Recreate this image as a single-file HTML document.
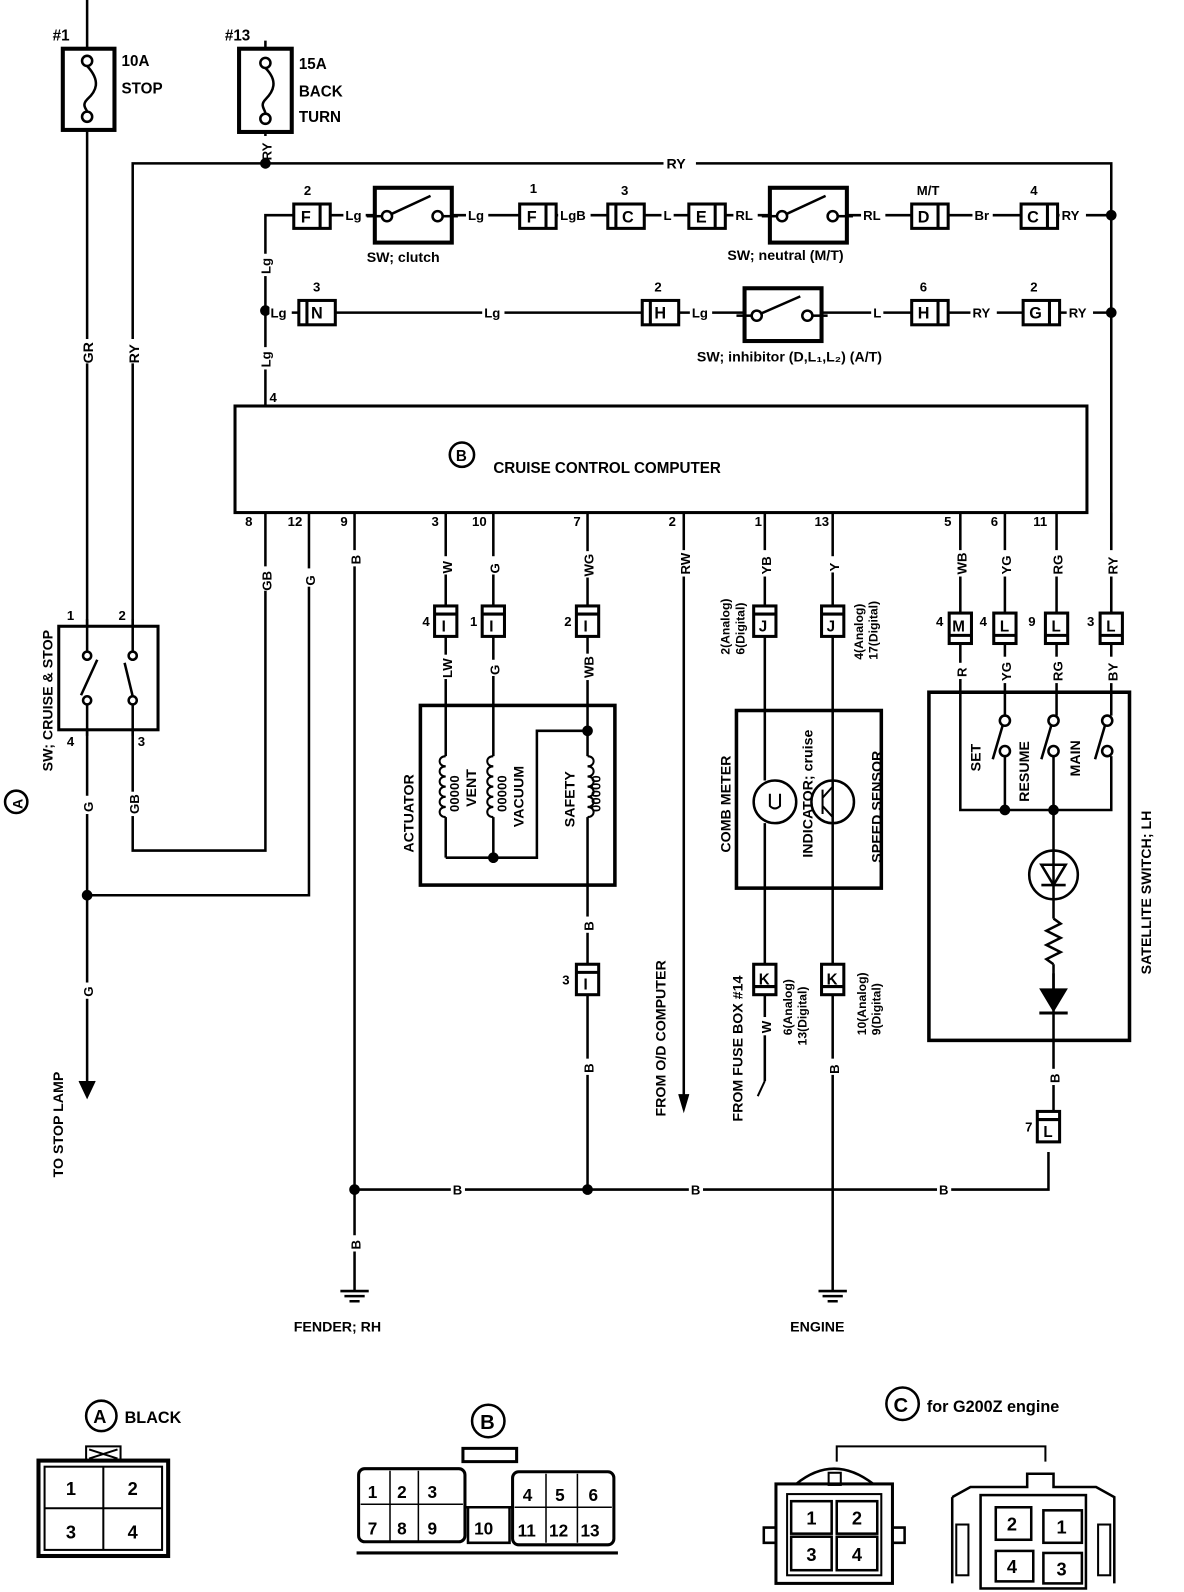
<!DOCTYPE html>
<html><head><meta charset="utf-8"><style>
html,body{margin:0;padding:0;background:#fff}
svg{display:block}
text{font-family:"Liberation Sans",sans-serif;font-weight:bold;fill:#000}
</style></head><body>
<svg width="1184" height="1592" viewBox="0 0 1184 1592" xmlns="http://www.w3.org/2000/svg">
<g transform="scale(1.013 1.015)" stroke="#000" stroke-width="2.5" fill="none">
<!-- Fuses -->
<line x1="86" y1="0" x2="86" y2="620"/>
<rect x="62" y="48" width="51" height="80" stroke-width="4" fill="#fff"/>
<circle cx="86" cy="60" r="5"/><circle cx="86" cy="115" r="5"/>
<path d="M86 65 C100 80 95 90 86 98 C80 104 86 108 86 110"/>
<text x="52" y="40" font-size="15" stroke="none">#1</text>
<text x="120" y="65" font-size="15" stroke="none">10A</text>
<text x="120" y="92" font-size="15" stroke="none">STOP</text>
<line x1="262" y1="40" x2="262" y2="160"/>
<rect x="236" y="48" width="52" height="82" stroke-width="4" fill="#fff"/>
<circle cx="262" cy="62" r="5"/><circle cx="262" cy="117" r="5"/>
<path d="M262 67 C275 80 270 90 262 98 C256 104 262 108 262 112"/>
<text x="222" y="40" font-size="15" stroke="none">#13</text>
<text x="295" y="68" font-size="15" stroke="none">15A</text>
<text x="295" y="95" font-size="15" stroke="none">BACK</text>
<text x="295" y="120" font-size="15" stroke="none">TURN</text>
<rect x="255" y="134" width="14" height="22" fill="#fff" stroke="none"/>
<text transform="translate(268,158) rotate(-90)" font-size="13" stroke="none">RY</text>
<!-- RY bus -->
<path d="M131 620 V161 H1097 V620"/>
<circle cx="262" cy="161" r="4" fill="#000"/>
<rect x="655" y="152" width="32" height="16" fill="#fff" stroke="none"/>
<text x="658" y="166" font-size="14" stroke="none">RY</text>
<rect x="124" y="334" width="14" height="24" fill="#fff" stroke="none"/>
<text transform="translate(137,358) rotate(-90)" font-size="14" stroke="none">RY</text>
<rect x="79" y="334" width="14" height="24" fill="#fff" stroke="none"/>
<text transform="translate(92,358) rotate(-90)" font-size="14" stroke="none">GR</text>
<!-- Row 1 -->
<path d="M262 400 V212 H1097"/>
<circle cx="1097" cy="212" r="4" fill="#000"/>
<circle cx="1097" cy="308" r="4" fill="#000"/>
<circle cx="262" cy="306" r="4" fill="#000"/>
<g stroke="none" font-size="13">
<rect x="255" y="250" width="14" height="22" fill="#fff"/><text transform="translate(267,270) rotate(-90)">Lg</text>
<rect x="255" y="342" width="14" height="22" fill="#fff"/><text transform="translate(267,362) rotate(-90)">Lg</text>
</g>
<g stroke="none" font-size="13">
<rect x="339" y="203" width="22" height="18" fill="#fff"/><text x="341" y="217">Lg</text>
<rect x="460" y="203" width="22" height="18" fill="#fff"/><text x="462" y="217">Lg</text>
<rect x="551" y="203" width="32" height="18" fill="#fff"/><text x="553" y="217">LgB</text>
<rect x="653" y="203" width="12" height="18" fill="#fff"/><text x="655" y="217">L</text>
<rect x="724" y="203" width="24" height="18" fill="#fff"/><text x="726" y="217">RL</text>
<rect x="850" y="203" width="24" height="18" fill="#fff"/><text x="852" y="217">RL</text>
<rect x="960" y="203" width="20" height="18" fill="#fff"/><text x="962" y="217">Br</text>
<rect x="1046" y="203" width="26" height="18" fill="#fff"/><text x="1048" y="217">RY</text>
</g>
<rect x="370" y="185" width="76" height="54" stroke-width="4" fill="#fff"/>
<circle cx="382" cy="213" r="5"/><circle cx="432" cy="213" r="5"/><line x1="386" y1="211" x2="425" y2="193"/>
<line x1="362" y1="213" x2="377" y2="213"/><line x1="437" y1="213" x2="452" y2="213"/>
<text x="362" y="258" font-size="14" stroke="none">SW; clutch</text>
<rect x="760" y="185" width="76" height="54" stroke-width="4" fill="#fff"/>
<circle cx="772" cy="213" r="5"/><circle cx="822" cy="213" r="5"/><line x1="776" y1="211" x2="815" y2="193"/>
<line x1="752" y1="213" x2="767" y2="213"/><line x1="827" y1="213" x2="842" y2="213"/>
<text x="718" y="256" font-size="14" stroke="none">SW; neutral (M/T)</text>
<!-- Row 2 -->
<path d="M262 308 H1097"/>
<g stroke="none" font-size="13">
<rect x="266" y="299" width="22" height="18" fill="#fff"/><text x="267" y="313">Lg</text>
<rect x="476" y="299" width="22" height="18" fill="#fff"/><text x="478" y="313">Lg</text>
<rect x="681" y="299" width="22" height="18" fill="#fff"/><text x="683" y="313">Lg</text>
<rect x="860" y="299" width="12" height="18" fill="#fff"/><text x="862" y="313">L</text>
<rect x="958" y="299" width="26" height="18" fill="#fff"/><text x="960" y="313">RY</text>
<rect x="1053" y="299" width="26" height="18" fill="#fff"/><text x="1055" y="313">RY</text>
</g>
<rect x="735" y="284" width="76" height="52" stroke-width="4" fill="#fff"/>
<circle cx="747" cy="311" r="5"/><circle cx="797" cy="311" r="5"/><line x1="751" y1="309" x2="790" y2="292"/>
<line x1="727" y1="311" x2="742" y2="311"/><line x1="802" y1="311" x2="817" y2="311"/>
<text x="688" y="356" font-size="14" stroke="none">SW; inhibitor (D,L₁,L₂) (A/T)</text>
<g stroke-width="3">
<rect x="290" y="201" width="36" height="24" fill="#fff"/><line x1="316" y1="201" x2="316" y2="225"/>
<rect x="513" y="201" width="36" height="24" fill="#fff"/><line x1="539" y1="201" x2="539" y2="225"/>
<rect x="600" y="201" width="36" height="24" fill="#fff"/><line x1="608" y1="201" x2="608" y2="225"/>
<rect x="680" y="201" width="36" height="24" fill="#fff"/><line x1="706" y1="201" x2="706" y2="225"/>
<rect x="900" y="201" width="36" height="24" fill="#fff"/><line x1="926" y1="201" x2="926" y2="225"/>
<rect x="1008" y="201" width="36" height="24" fill="#fff"/><line x1="1034" y1="201" x2="1034" y2="225"/>
<rect x="295" y="296" width="36" height="24" fill="#fff"/><line x1="303" y1="296" x2="303" y2="320"/>
<rect x="634" y="296" width="36" height="24" fill="#fff"/><line x1="642" y1="296" x2="642" y2="320"/>
<rect x="900" y="296" width="36" height="24" fill="#fff"/><line x1="926" y1="296" x2="926" y2="320"/>
<rect x="1010" y="296" width="36" height="24" fill="#fff"/><line x1="1036" y1="296" x2="1036" y2="320"/>
</g>
<g stroke="none" font-size="16">
<text x="297" y="219">F</text><text x="520" y="219">F</text><text x="614" y="219">C</text><text x="687" y="219">E</text><text x="906" y="219">D</text><text x="1014" y="219">C</text>
<text x="307" y="314">N</text><text x="646" y="314">H</text><text x="906" y="314">H</text><text x="1016" y="314">G</text>
<g font-size="13">
<text x="300" y="192">2</text><text x="523" y="190">1</text><text x="613" y="192">3</text><text x="905" y="192">M/T</text><text x="1017" y="192">4</text>
<text x="309" y="287">3</text><text x="646" y="287">2</text><text x="908" y="287">6</text><text x="1017" y="287">2</text>
</g></g>
<!-- Computer -->
<rect x="232" y="400" width="841" height="105" stroke-width="3" fill="#fff"/>
<circle cx="456" cy="448" r="12"/>
<text x="450" y="454" font-size="15" stroke="none">B</text>
<text x="487" y="466" font-size="15" stroke="none">CRUISE CONTROL COMPUTER</text>
<text x="266" y="396" font-size="13" stroke="none">4</text>
<g stroke="none" font-size="13">
<text x="242" y="518">8</text><text x="284" y="518">12</text><text x="336" y="518">9</text><text x="426" y="518">3</text><text x="466" y="518">10</text><text x="566" y="518">7</text><text x="660" y="518">2</text><text x="745" y="518">1</text><text x="804" y="518">13</text><text x="932" y="518">5</text><text x="978" y="518">6</text><text x="1020" y="518">11</text>
</g>
<!-- Switch cruise & stop -->
<rect x="58" y="617" width="98" height="102" stroke-width="3" fill="#fff"/>
<circle cx="86" cy="646" r="4"/><circle cx="86" cy="690" r="4"/><circle cx="131" cy="646" r="4"/><circle cx="131" cy="690" r="4"/>
<line x1="86" y1="642" x2="86" y2="610"/><line x1="131" y1="642" x2="131" y2="610"/>
<line x1="80" y1="685" x2="96" y2="650"/><line x1="131" y1="686" x2="123" y2="653"/>
<line x1="86" y1="694" x2="86" y2="725"/><line x1="131" y1="694" x2="131" y2="725"/>
<g stroke="none" font-size="13"><text x="66" y="611">1</text><text x="117" y="611">2</text><text x="66" y="735">4</text><text x="136" y="735">3</text></g>
<text transform="translate(52,760) rotate(-90)" font-size="14" stroke="none">SW; CRUISE &amp; STOP</text>
<circle cx="16" cy="790" r="11"/>
<text transform="translate(22,797) rotate(-90)" font-size="14" stroke="none">A</text>
<path d="M86 719 V1075"/>
<path d="M78 1065 L86 1082 L94 1065" fill="#000" stroke-width="1"/>
<circle cx="86" cy="882" r="4" fill="#000"/>
<path d="M86 882 H305 V505"/>
<path d="M131 719 V838 H262 V505"/>
<g stroke="none" font-size="13">
<rect x="79" y="784" width="14" height="18" fill="#fff"/><text transform="translate(92,800) rotate(-90)">G</text>
<rect x="124" y="780" width="14" height="24" fill="#fff"/><text transform="translate(137,802) rotate(-90)">GB</text>
<rect x="79" y="968" width="14" height="16" fill="#fff"/><text transform="translate(92,982) rotate(-90)">G</text>
<rect x="255" y="558" width="14" height="24" fill="#fff"/><text transform="translate(268,582) rotate(-90)">GB</text>
<rect x="298" y="560" width="14" height="18" fill="#fff"/><text transform="translate(311,577) rotate(-90)">G</text>
</g>
<text transform="translate(62,1160) rotate(-90)" font-size="14" stroke="none">TO STOP LAMP</text>
<!-- ground line -->
<path d="M350 505 V1272"/>
<path d="M350 1172 H1035 V1135"/>
<circle cx="350" cy="1172" r="4" fill="#000"/><circle cx="580" cy="1172" r="4" fill="#000"/>
<g stroke="none" font-size="13">
<rect x="343" y="542" width="14" height="16" fill="#fff"/><text transform="translate(356,556) rotate(-90)">B</text>
<rect x="343" y="1217" width="14" height="16" fill="#fff"/><text transform="translate(356,1231) rotate(-90)">B</text>
<rect x="445" y="1164" width="14" height="16" fill="#fff"/><text x="447" y="1177">B</text>
<rect x="680" y="1164" width="14" height="16" fill="#fff"/><text x="682" y="1177">B</text>
<rect x="925" y="1164" width="14" height="16" fill="#fff"/><text x="927" y="1177">B</text>
</g>
<path d="M336 1272 H364 M340 1277 H360 M345 1282 H355"/>
<text x="290" y="1312" font-size="14" stroke="none">FENDER; RH</text>
<!-- actuator -->
<path d="M440 505 V745 M440 805 V845 M487 505 V745 M487 805 V845 M580 505 V745 M580 805 V1172"/>
<rect x="415" y="695" width="192" height="177" stroke-width="3.5"/>
<path d="M440 845 H530 V720 H580"/>
<circle cx="487" cy="845" r="4" fill="#000"/><circle cx="580" cy="720" r="4" fill="#000"/>
<g stroke-width="2">
<path d="M440 745 c-8 0 -8 10 0 10 c-8 0 -8 10 0 10 c-8 0 -8 10 0 10 c-8 0 -8 10 0 10 c-8 0 -8 10 0 10 c-8 0 -8 10 0 10"/>
<path d="M487 745 c-8 0 -8 10 0 10 c-8 0 -8 10 0 10 c-8 0 -8 10 0 10 c-8 0 -8 10 0 10 c-8 0 -8 10 0 10 c-8 0 -8 10 0 10"/>
<path d="M580 745 c8 0 8 10 0 10 c8 0 8 10 0 10 c8 0 8 10 0 10 c8 0 8 10 0 10 c8 0 8 10 0 10 c8 0 8 10 0 10"/>
</g>
<g stroke="none" font-size="13">
<text transform="translate(453,800) rotate(-90)">00000</text>
<text transform="translate(500,800) rotate(-90)">00000</text>
<text transform="translate(593,800) rotate(-90)">00000</text>
<text transform="translate(470,795) rotate(-90)" font-size="14">VENT</text>
<text transform="translate(517,815) rotate(-90)" font-size="14">VACUUM</text>
<text transform="translate(567,815) rotate(-90)" font-size="14">SAFETY</text>
<text transform="translate(408,840) rotate(-90)" font-size="14">ACTUATOR</text>
<rect x="433" y="548" width="14" height="18" fill="#fff"/><text transform="translate(446,565) rotate(-90)">W</text>
<rect x="480" y="548" width="14" height="18" fill="#fff"/><text transform="translate(493,565) rotate(-90)">G</text>
<rect x="573" y="543" width="14" height="26" fill="#fff"/><text transform="translate(586,568) rotate(-90)">WG</text>
<rect x="433" y="645" width="14" height="24" fill="#fff"/><text transform="translate(446,668) rotate(-90)">LW</text>
<rect x="480" y="650" width="14" height="16" fill="#fff"/><text transform="translate(493,665) rotate(-90)">G</text>
<rect x="573" y="644" width="14" height="26" fill="#fff"/><text transform="translate(586,668) rotate(-90)">WB</text>
<rect x="573" y="903" width="14" height="16" fill="#fff"/><text transform="translate(586,917) rotate(-90)">B</text>
<rect x="573" y="1043" width="14" height="16" fill="#fff"/><text transform="translate(586,1057) rotate(-90)">B</text>
</g>
<!-- RW -->
<path d="M675 505 V1090"/>
<path d="M670 1078 L675 1095 L680 1078" fill="#000" stroke-width="1"/>
<g stroke="none" font-size="13">
<rect x="668" y="542" width="14" height="26" fill="#fff"/><text transform="translate(681,566) rotate(-90)">RW</text>
</g>
<text transform="translate(657,1100) rotate(-90)" font-size="14" stroke="none">FROM O/D COMPUTER</text>
<!-- comb meter -->
<path d="M755 505 V769 M755 811 V1065 M822 505 V1272"/>
<path d="M755 1065 L748 1080" stroke-width="2"/>
<rect x="727" y="700" width="143" height="175" stroke-width="3.5"/>
<circle cx="765" cy="790" r="21"/>
<path d="M760 782 v12 q5 5 10 0 v-12" stroke-width="2"/>
<circle cx="822" cy="790" r="21"/>
<path d="M812 778 V802 M812 786 L822 775 M812 794 L822 805" stroke-width="2"/>
<g stroke="none" font-size="13">
<rect x="748" y="542" width="14" height="26" fill="#fff"/><text transform="translate(761,566) rotate(-90)">YB</text>
<rect x="815" y="548" width="14" height="16" fill="#fff"/><text transform="translate(828,563) rotate(-90)">Y</text>
<text transform="translate(720,645) rotate(-90)" font-size="12">2(Analog)</text>
<text transform="translate(735,645) rotate(-90)" font-size="12">6(Digital)</text>
<text transform="translate(852,650) rotate(-90)" font-size="12">4(Analog)</text>
<text transform="translate(866,650) rotate(-90)" font-size="12">17(Digital)</text>
<text transform="translate(721,840) rotate(-90)" font-size="14">COMB METER</text>
<text transform="translate(802,845) rotate(-90)" font-size="14">INDICATOR; cruise</text>
<text transform="translate(870,850) rotate(-90)" font-size="14">SPEED SENSOR</text>
<text transform="translate(782,1020) rotate(-90)" font-size="12">6(Analog)</text>
<text transform="translate(796,1030) rotate(-90)" font-size="12">13(Digital)</text>
<text transform="translate(855,1020) rotate(-90)" font-size="12">10(Analog)</text>
<text transform="translate(869,1020) rotate(-90)" font-size="12">9(Digital)</text>
<rect x="748" y="1002" width="14" height="18" fill="#fff"/><text transform="translate(761,1018) rotate(-90)">W</text>
<rect x="815" y="1043" width="14" height="16" fill="#fff"/><text transform="translate(828,1058) rotate(-90)">B</text>
<text transform="translate(733,1105) rotate(-90)" font-size="14">FROM FUSE BOX #14</text>
</g>
<path d="M808 1272 H836 M812 1277 H832 M817 1282 H827"/>
<text x="780" y="1312" font-size="14" stroke="none">ENGINE</text>
<!-- satellite -->
<path d="M948 505 V798 H1097 V745 M992 505 V705 M1043 505 V705 M1097 505 V705 M992 745 V798 M1040 745 V838 M1040 886 V905 M1040 959 V1100"/>
<rect x="917" y="682" width="198" height="343" stroke-width="3.5"/>
<circle cx="992" cy="710" r="5" fill="#fff"/><circle cx="992" cy="740" r="5" fill="#fff"/>
<circle cx="1040" cy="710" r="5" fill="#fff"/><circle cx="1040" cy="740" r="5" fill="#fff"/>
<circle cx="1093" cy="710" r="5" fill="#fff"/><circle cx="1093" cy="740" r="5" fill="#fff"/>
<path d="M990 714 L980 748 M1038 714 L1028 748 M1091 714 L1081 748"/>
<circle cx="992" cy="798" r="4" fill="#000"/><circle cx="1040" cy="798" r="4" fill="#000"/>
<circle cx="1040" cy="862" r="24" fill="#fff"/>
<path d="M1028 852 H1052 L1040 872 Z M1028 872 H1052" stroke-width="2.5"/>
<line x1="1040" y1="838" x2="1040" y2="886"/>
<path d="M1040 905 l7 5 l-14 7 l14 7 l-14 7 l14 7 l-14 7 l7 5" stroke-width="2.5"/>
<path d="M1040 950 V975"/>
<path d="M1028 975 H1052 L1040 995 Z" fill="#000"/><line x1="1026" y1="998" x2="1054" y2="998" stroke-width="3"/>
<g stroke="none" font-size="13">
<rect x="941" y="542" width="14" height="26" fill="#fff"/><text transform="translate(954,566) rotate(-90)">WB</text>
<rect x="985" y="542" width="14" height="26" fill="#fff"/><text transform="translate(998,566) rotate(-90)">YG</text>
<rect x="1036" y="542" width="14" height="26" fill="#fff"/><text transform="translate(1049,566) rotate(-90)">RG</text>
<rect x="1090" y="542" width="14" height="26" fill="#fff"/><text transform="translate(1103,566) rotate(-90)">RY</text>
<rect x="941" y="653" width="14" height="16" fill="#fff"/><text transform="translate(954,667) rotate(-90)">R</text>
<rect x="985" y="647" width="14" height="26" fill="#fff"/><text transform="translate(998,671) rotate(-90)">YG</text>
<rect x="1036" y="647" width="14" height="26" fill="#fff"/><text transform="translate(1049,671) rotate(-90)">RG</text>
<rect x="1090" y="647" width="14" height="26" fill="#fff"/><text transform="translate(1103,671) rotate(-90)">BY</text>
<rect x="1033" y="1053" width="14" height="16" fill="#fff"/><text transform="translate(1046,1067) rotate(-90)">B</text>
<text transform="translate(968,760) rotate(-90)" font-size="14">SET</text>
<text transform="translate(1016,790) rotate(-90)" font-size="14">RESUME</text>
<text transform="translate(1066,765) rotate(-90)" font-size="14">MAIN</text>
<text transform="translate(1136,960) rotate(-90)" font-size="14">SATELLITE SWITCH; LH</text>
</g>
<!-- vertical connectors -->
<g stroke-width="3" fill="#fff">
<rect x="429" y="597" width="22" height="30"/><line x1="429" y1="605" x2="451" y2="605"/>
<rect x="476" y="597" width="22" height="30"/><line x1="476" y1="605" x2="498" y2="605"/>
<rect x="569" y="597" width="22" height="30"/><line x1="569" y1="605" x2="591" y2="605"/>
<rect x="744" y="597" width="22" height="30"/><line x1="744" y1="605" x2="766" y2="605"/>
<rect x="811" y="597" width="22" height="30"/><line x1="811" y1="605" x2="833" y2="605"/>
<rect x="937" y="604" width="22" height="30"/><line x1="937" y1="626" x2="959" y2="626"/>
<rect x="981" y="604" width="22" height="30"/><line x1="981" y1="626" x2="1003" y2="626"/>
<rect x="1032" y="604" width="22" height="30"/><line x1="1032" y1="626" x2="1054" y2="626"/>
<rect x="1086" y="604" width="22" height="30"/><line x1="1086" y1="626" x2="1108" y2="626"/>
<rect x="569" y="950" width="22" height="30"/><line x1="569" y1="958" x2="591" y2="958"/>
<rect x="744" y="950" width="22" height="30"/><line x1="744" y1="972" x2="766" y2="972"/>
<rect x="811" y="950" width="22" height="30"/><line x1="811" y1="972" x2="833" y2="972"/>
<rect x="1024" y="1095" width="22" height="30"/><line x1="1024" y1="1103" x2="1046" y2="1103"/>
</g>
<g stroke="none" font-size="15">
<text x="436" y="622">I</text><text x="483" y="622">I</text><text x="576" y="622">I</text><text x="749" y="622">J</text><text x="816" y="622">J</text>
<text x="940" y="622">M</text><text x="987" y="622">L</text><text x="1038" y="622">L</text><text x="1092" y="622">L</text>
<text x="576" y="975">I</text><text x="749" y="970">K</text><text x="816" y="970">K</text><text x="1030" y="1120">L</text>
<g font-size="13"><text x="417" y="617">4</text><text x="464" y="617">1</text><text x="557" y="617">2</text><text x="924" y="617">4</text><text x="967" y="617">4</text><text x="1015" y="617">9</text><text x="1073" y="617">3</text><text x="555" y="970">3</text><text x="1012" y="1115">7</text></g>
</g>
<!-- bottom connectors -->
<circle cx="100" cy="1395" r="15"/>
<text x="92" y="1402" font-size="18" stroke="none" font-weight="normal">A</text>
<text x="123" y="1402" font-size="16" stroke="none">BLACK</text>
<rect x="85" y="1425" width="34" height="14" stroke-width="2"/><path d="M88 1428 L116 1437 M116 1428 L88 1437" stroke-width="2"/>
<rect x="38" y="1439" width="128" height="94" stroke-width="4"/>
<rect x="44" y="1445" width="116" height="82" stroke-width="2"/>
<line x1="102" y1="1445" x2="102" y2="1527" stroke-width="2"/><line x1="44" y1="1486" x2="160" y2="1486" stroke-width="2"/>
<g stroke="none" font-size="18"><text x="65" y="1473">1</text><text x="126" y="1473">2</text><text x="65" y="1516">3</text><text x="126" y="1516">4</text></g>
<circle cx="482" cy="1400" r="16"/>
<text x="474" y="1408" font-size="20" stroke="none" font-weight="normal">B</text>
<path d="M457 1427 H510 V1440 H457 Z" stroke-width="3"/>
<rect x="354" y="1447" width="105" height="72" rx="6" stroke-width="3"/>
<rect x="506" y="1450" width="100" height="72" rx="6" stroke-width="3"/>
<path d="M459 1485 H506 M462 1485 V1520 H503 V1485" stroke-width="2.5"/>
<path d="M352 1530 H610" stroke-width="3"/>
<g stroke-width="1.5"><path d="M385 1449 V1518 M413 1449 V1518 M356 1482 H457 M539 1452 V1520 M570 1452 V1520 M508 1485 H604"/></g>
<g stroke="none" font-size="17">
<text x="363" y="1476">1</text><text x="392" y="1476">2</text><text x="422" y="1476">3</text>
<text x="363" y="1512">7</text><text x="392" y="1512">8</text><text x="422" y="1512">9</text>
<text x="468" y="1512">10</text>
<text x="516" y="1479">4</text><text x="548" y="1479">5</text><text x="581" y="1479">6</text>
<text x="511" y="1514">11</text><text x="542" y="1514">12</text><text x="573" y="1514">13</text>
</g>
<circle cx="891" cy="1383" r="16"/>
<text x="882" y="1391" font-size="20" stroke="none" font-weight="normal">C</text>
<text x="915" y="1391" font-size="16" stroke="none">for G200Z engine</text>
<path d="M826 1440 V1425 H1032 V1440" stroke-width="2"/>
<rect x="766" y="1462" width="115" height="98" stroke-width="3"/>
<rect x="777" y="1472" width="93" height="80" stroke-width="2"/>
<path d="M786 1462 Q823 1432 862 1462" stroke-width="2.5"/>
<rect x="818" y="1451" width="12" height="12" stroke-width="2"/>
<g stroke-width="2.5"><rect x="781" y="1479" width="40" height="32"/><rect x="826" y="1479" width="40" height="32"/><rect x="781" y="1514" width="40" height="33"/><rect x="826" y="1514" width="40" height="33"/></g>
<path d="M766 1505 H754 V1520 H766 M881 1505 H893 V1520 H881" stroke-width="2.5"/>
<g stroke="none" font-size="18"><text x="796" y="1502">1</text><text x="841" y="1502">2</text><text x="796" y="1538">3</text><text x="841" y="1538">4</text></g>
<path d="M940 1475 L958 1465 H1014 V1452 H1040 V1465 H1082 L1100 1475 V1560 M940 1475 V1560" stroke-width="2.5"/>
<rect x="968" y="1473" width="104" height="92" stroke-width="2.5"/>
<rect x="944" y="1502" width="12" height="50" stroke-width="2"/><rect x="1084" y="1502" width="12" height="50" stroke-width="2"/>
<g stroke-width="2.5"><rect x="983" y="1485" width="35" height="32"/><rect x="1030" y="1488" width="38" height="32"/><rect x="983" y="1528" width="37" height="30"/><rect x="1030" y="1530" width="38" height="30"/></g>
<g stroke="none" font-size="18"><text x="994" y="1508">2</text><text x="1043" y="1511">1</text><text x="994" y="1550">4</text><text x="1043" y="1552">3</text></g>
</g>
</svg>
</body></html>
